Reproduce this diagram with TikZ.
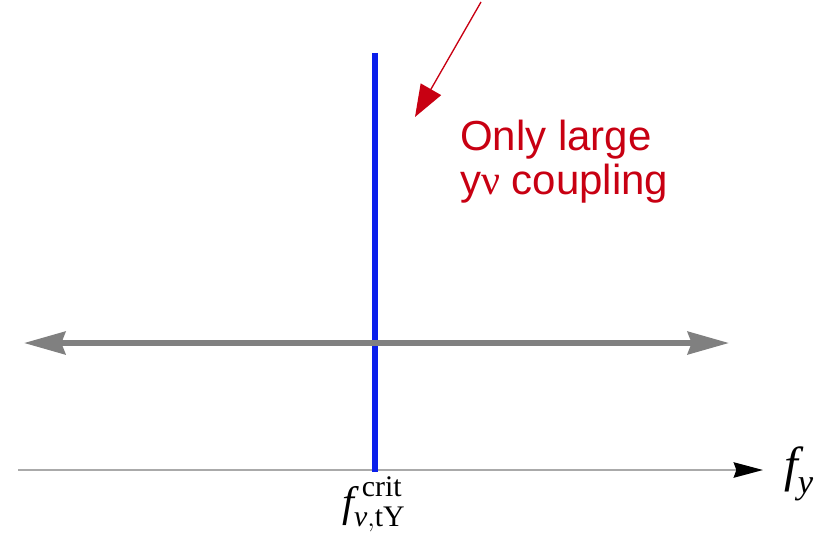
\documentclass[tikz,border=0pt]{standalone}
\usepackage{amsmath}
\usepackage{fontspec}
\setmainfont{Liberation Serif}
\newfontfamily\labelsans{Liberation Sans}
\usetikzlibrary{arrows.meta}
\definecolor{notered}{RGB}{200,0,18}
\definecolor{critblue}{RGB}{10,30,235}
\definecolor{rangegray}{RGB}{128,128,128}
\definecolor{axisgray}{RGB}{170,170,170}
\tikzset{
  axisline/.style={draw=axisgray,line width=1.5pt,-{Stealth[color=black,length=22pt,width=11.5pt,inset=2pt]}},
  rangearrow/.style={draw=rangegray,line width=4pt,{Stealth[length=31pt,width=17pt,inset=3pt]}-{Stealth[length=31pt,width=17pt,inset=3pt]}},
  critline/.style={draw=critblue,line width=4pt},
  pointer/.style={draw=notered,line width=1pt,-{Triangle[length=24pt,width=17.5pt]}},
  note/.style={text=notered,font=\labelsans\fontsize{31.5}{33}\selectfont,inner sep=0pt,anchor=base west},
  mathlabel/.style={font=\fontsize{37}{42}\selectfont,inner sep=0pt,anchor=base west}
}
\begin{document}
\begin{tikzpicture}[x=0.75pt,y=-0.75pt]
\useasboundingbox (0,0) rectangle (838,535);
\coordinate (axisL) at (18,470);
\coordinate (axisR) at (763,470);
\coordinate (critT) at (375,53);
\coordinate (critB) at (375,472);
\coordinate (rangeL) at (24,343);
\coordinate (rangeR) at (729,343);
\coordinate (ptrS) at (481,2);
\coordinate (ptrE) at (415,117);
\draw[axisline] (axisL) -- (axisR);
\draw[critline] (critT) -- (critB);
\draw[rangearrow] (rangeL) -- (rangeR);
\draw[pointer] (ptrS) -- (ptrE);
\node[note] (only) at (460,150) {Only large};
\node[note] (coupling) at (460,194) {y{\rmfamily ν} coupling};
\node[mathlabel] (fy) at (784,481) {$\textit{f}_{\textit{y}}$};
\node[mathlabel,font=\fontsize{32}{38}\selectfont] (fcrit) at (342,516) {$\textit{f}^{\;\text{crit}}_{\textit{ν},\text{tY}}$};
\end{tikzpicture}
\end{document}
